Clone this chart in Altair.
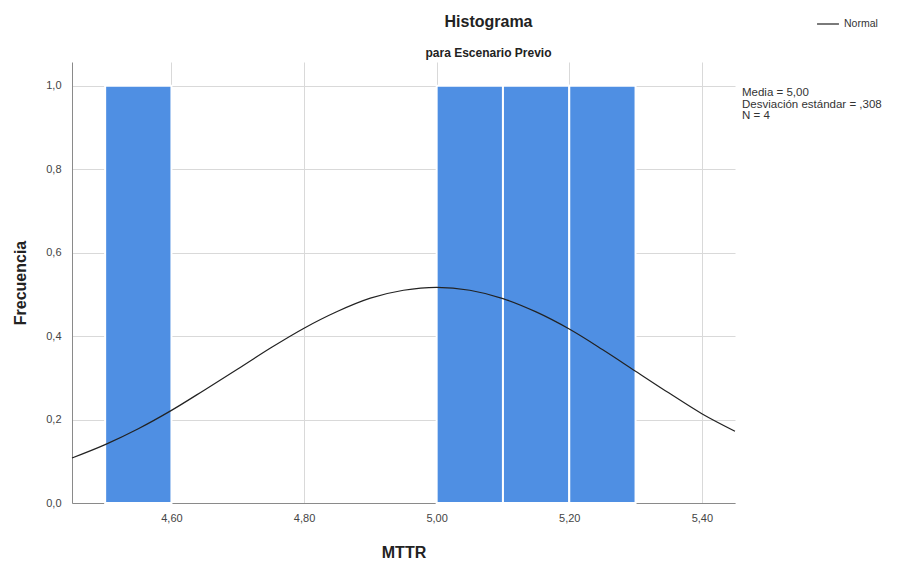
import altair as alt
import pandas as pd

# ---- data ----
bin_start = [4.50, 5.00, 5.10, 5.20]
bin_end = [4.60, 5.10, 5.20, 5.30]
freq = [1, 1, 1, 1]

curve_x = [4.45, 4.50, 4.55, 4.60, 4.65, 4.70, 4.75, 4.80, 4.85, 4.90, 4.95,
           5.00, 5.05, 5.10, 5.15, 5.20, 5.25, 5.30, 5.35, 5.40, 5.45]
curve_y = [0.108, 0.140, 0.178, 0.222, 0.271, 0.321, 0.372, 0.419, 0.459, 0.491, 0.510,
           0.517, 0.510, 0.490, 0.458, 0.417, 0.368, 0.316, 0.264, 0.214, 0.172]

x_ticks = [4.60, 4.80, 5.00, 5.20, 5.40]
y_ticks = [0.0, 0.2, 0.4, 0.6, 0.8, 1.0]

stats_text = "Media = 5,00\nDesviación estándar = ,308\nN = 4"

bars_df = pd.DataFrame({"start": bin_start, "end": bin_end, "freq": freq})
curve_df = pd.DataFrame({"x": curve_x, "y": curve_y, "serie": ["Normal"] * len(curve_x)})
stats_df = pd.DataFrame({"t": [stats_text]})

FONT = "Liberation Sans"
BLUE = "#4f8fe3"

x_scale = alt.Scale(domain=[4.45, 5.45], nice=False, zero=False)
y_scale = alt.Scale(domain=[0, 1.057], nice=False, zero=True)

x_axis = alt.Axis(values=x_ticks, title="MTTR",
                  labelExpr="replace(format(datum.value, '.2f'), '.', ',')",
                  ticks=False, labelPadding=9, titlePadding=21,
                  grid=True)
y_axis = alt.Axis(values=y_ticks, title="Frecuencia",
                  labelExpr="replace(format(datum.value, '.1f'), '.', ',')",
                  ticks=False, labelPadding=11, titlePadding=17,
                  grid=True)

bars = alt.Chart(bars_df).mark_rect(color=BLUE, stroke="white", strokeWidth=2).encode(
    x=alt.X("start:Q", scale=x_scale, axis=x_axis),
    x2="end:Q",
    y=alt.Y("freq:Q", scale=y_scale, axis=y_axis),
    y2=alt.datum(0),
)

line = alt.Chart(curve_df).mark_line(strokeWidth=1.2, interpolate="monotone").encode(
    x=alt.X("x:Q", scale=x_scale, axis=x_axis),
    y=alt.Y("y:Q", scale=y_scale, axis=y_axis),
    color=alt.Color("serie:N", scale=alt.Scale(range=["#222222"]),
                    legend=alt.Legend(title=None, orient="none", legendX=744, legendY=-50,
                                      symbolType="stroke", symbolSize=480,
                                      symbolStrokeWidth=1.2, labelFontSize=10.5,
                                      labelFont=FONT, labelColor="#333333",
                                      padding=0)),
)

stats = alt.Chart(stats_df).mark_text(
    align="left", baseline="top", font=FONT, fontSize=11.5, lineBreak="\n",
    lineHeight=11.5, color="#333333"
).encode(
    x=alt.value(670),
    y=alt.value(25),
    text="t:N",
)

chart = alt.layer(bars, line, stats).properties(
    width=663,
    height=441,
    autosize=alt.AutoSizeParams(type="none"),
    padding={"left": 72, "top": 62, "right": 170, "bottom": 60},
    title=alt.TitleParams(
        text="Histograma",
        subtitle="para Escenario Previo",
        anchor="middle",
        dx=85,
        offset=-47,
        font=FONT,
        fontSize=16,
        fontWeight="bold",
        color="#222222",
        subtitleFont=FONT,
        subtitleFontSize=12,
        subtitleFontWeight="bold",
        subtitleColor="#222222",
        subtitlePadding=18,
    ),
).configure_view(stroke=None).configure_axis(
    labelFont=FONT, labelFontSize=11, labelColor="#444444",
    titleFont=FONT, titleFontSize=16, titleFontWeight="bold", titleColor="#222222",
    domainColor="#8a8a8a", domainWidth=1, gridColor="#d9d9d9", gridWidth=1,
)

chart.save("out.html", embed_options={"renderer": "svg", "actions": False})
